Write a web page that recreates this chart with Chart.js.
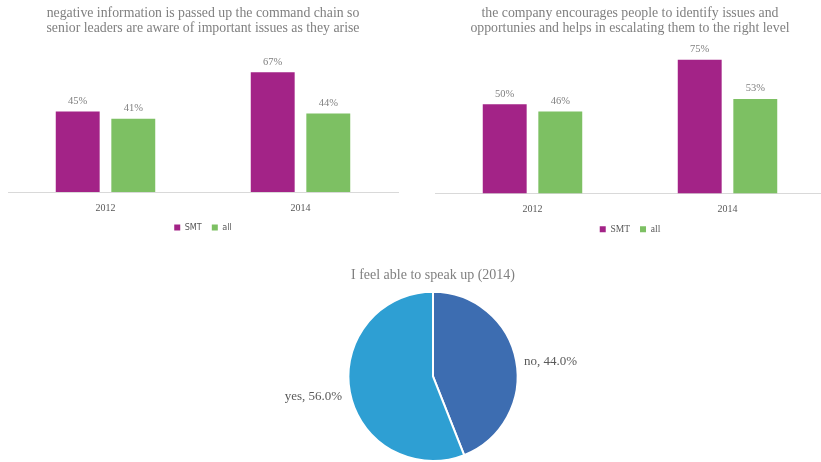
<!DOCTYPE html>
<html>
<head>
<meta charset="utf-8">
<script src="https://cdn.jsdelivr.net/npm/chart.js@4/dist/chart.umd.min.js"></script>
<style>
  html, body { margin: 0; padding: 0; background: #fff; overflow: hidden; }
  body { width: 821px; height: 462px; position: relative; }
  .box { position: absolute; }
  #boxA { left: 0; top: 0; width: 410px; height: 245px; }
  #boxB { left: 410px; top: 0; width: 420px; height: 245px; }
  #boxC { left: 0; top: 255px; width: 821px; height: 207px; }
</style>
</head>
<body>
<div class="box" id="boxA"><canvas id="chartA"></canvas></div>
<div class="box" id="boxB"><canvas id="chartB"></canvas></div>
<div class="box" id="boxC"><canvas id="chartC"></canvas></div>
<script>
// Survey results, in percent
const years = ['2012', '2014'];
const seriesNames = ['SMT', 'all'];

const titleA = ['negative information is passed up the command chain so',
                'senior leaders are aware of important issues as they arise'];
const smtA = [45, 67];
const allA = [41, 44];

const titleB = ['the company encourages people to identify issues and',
                'opportunies and helps in escalating them to the right level'];
const smtB = [50, 75];
const allB = [46, 53];

const titleC = 'I feel able to speak up (2014)';
const speakLabels = ['no', 'yes'];
const speakValues = [44.0, 56.0];

const PURPLE = '#A32387';
const GREEN = '#7DC063';
const GREY_TEXT = '#808080';
const SERIF = '"Liberation Serif", "Times New Roman", serif';
const NARROW = '"Liberation Sans Narrow", "Arial Narrow", "DejaVu Sans Condensed", sans-serif';

// Writes each bar's value above it
const barValueLabels = {
  id: 'barValueLabels',
  afterDatasetsDraw(chart) {
    const ctx = chart.ctx;
    ctx.save();
    ctx.font = '10.5px ' + SERIF;
    ctx.fillStyle = GREY_TEXT;
    ctx.textAlign = 'center';
    ctx.textBaseline = 'bottom';
    chart.data.datasets.forEach((ds, i) => {
      chart.getDatasetMeta(i).data.forEach((bar, j) => {
        ctx.fillText(ds.data[j] + '%', bar.x, bar.y - 5);
      });
    });
    ctx.restore();
  }
};

function barChart(id, cfg) {
  return new Chart(document.getElementById(id), {
    type: 'bar',
    data: {
      labels: years,
      datasets: [
        { label: seriesNames[0], data: cfg.smt, backgroundColor: PURPLE },
        { label: seriesNames[1], data: cfg.all, backgroundColor: GREEN }
      ]
    },
    options: {
      responsive: true,
      maintainAspectRatio: false,
      animation: false,
      events: [],
      categoryPercentage: 0.57,
      barPercentage: 0.79,
      layout: { padding: { left: cfg.padLeft, right: cfg.padRight, top: 0, bottom: cfg.padBottom } },
      scales: {
        x: {
          grid: { display: false, drawTicks: false },
          border: { display: true, color: '#D9D9D9', width: 1 },
          ticks: { color: '#595959', font: { family: SERIF, size: 10 }, padding: 10 },
          afterFit(scale) { scale.height -= 11; }
        },
        y: { display: false, min: 0, max: cfg.yMax }
      },
      plugins: {
        title: {
          display: true,
          text: cfg.title,
          color: GREY_TEXT,
          font: { family: SERIF, size: 13.8, weight: 'normal', lineHeight: 15 / 13.8 },
          padding: { top: 5.5, bottom: 10 }
        },
        legend: {
          position: 'bottom',
          labels: {
            color: '#595959',
            font: { family: cfg.legendFont, size: cfg.legendSize },
            boxWidth: 6, boxHeight: 6, padding: 10
          }
        },
        tooltip: { enabled: false }
      }
    },
    plugins: [barValueLabels]
  });
}

barChart('chartA', { title: titleA, smt: smtA, all: allA, legendFont: NARROW, legendSize: 9,
                     padLeft: 8, padRight: 12, padBottom: 3, yMax: 82 });
barChart('chartB', { title: titleB, smt: smtB, all: allB, legendFont: SERIF, legendSize: 9.5,
                     padLeft: 25, padRight: 5, padBottom: 1, yMax: 83 });

// Writes "name, value%" beside each slice of the pie
const sliceLabels = {
  id: 'sliceLabels',
  afterDatasetsDraw(chart) {
    const ctx = chart.ctx;
    ctx.save();
    ctx.font = '13px ' + SERIF;
    ctx.fillStyle = '#595959';
    ctx.textBaseline = 'middle';
    const ds = chart.data.datasets[0];
    chart.getDatasetMeta(0).data.forEach((arc, i) => {
      const mid = (arc.startAngle + arc.endAngle) / 2;
      const r = arc.outerRadius + 8;
      const x = arc.x + Math.cos(mid) * r;
      const y = arc.y + Math.sin(mid) * r + 3;
      ctx.textAlign = Math.cos(mid) >= 0 ? 'left' : 'right';
      ctx.fillText(chart.data.labels[i] + ', ' + ds.data[i].toFixed(1) + '%', x, y);
    });
    ctx.restore();
  }
};

new Chart(document.getElementById('chartC'), {
  type: 'pie',
  data: {
    labels: speakLabels,
    datasets: [{
      data: speakValues,
      backgroundColor: ['#3D6DB1', '#2E9FD3'],
      borderColor: '#FFFFFF',
      borderWidth: 2
    }]
  },
  options: {
    responsive: true,
    maintainAspectRatio: false,
    animation: false,
    events: [],
    layout: { padding: { left: 45, right: 0, top: 0, bottom: 0 } },
    plugins: {
      title: {
        display: true,
        text: titleC,
        color: GREY_TEXT,
        font: { family: SERIF, size: 14, weight: 'normal', lineHeight: 1.2 },
        padding: { top: 12, bottom: 7 }
      },
      legend: { display: false },
      tooltip: { enabled: false }
    }
  },
  plugins: [sliceLabels]
});
</script>
</body>
</html>
